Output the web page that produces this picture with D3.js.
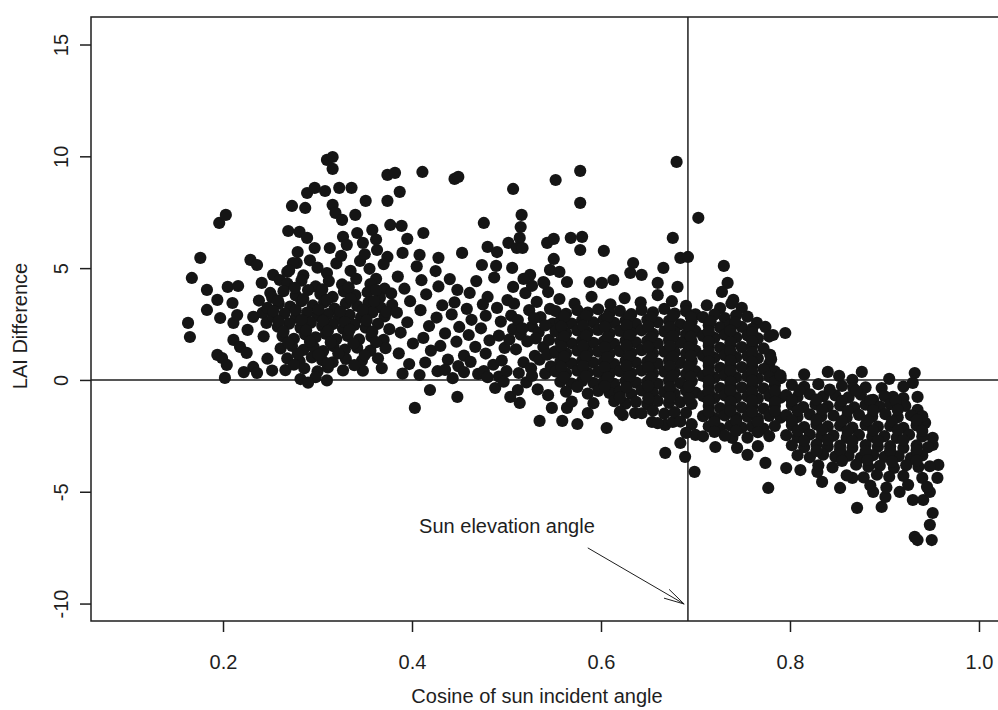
<!DOCTYPE html>
<html>
<head>
<meta charset="utf-8">
<script src="https://cdn.jsdelivr.net/npm/d3@7"></script>
<style>
  html, body { margin: 0; padding: 0; background: #fff; overflow: hidden; }
  svg { display: block; }
  svg text { font-family: "Liberation Sans", Arial, sans-serif; fill: #1e1e1e; }
</style>
</head>
<body>
<svg id="chart" width="998" height="710"></svg>
<script>
// tick values
const xTicks = [0.2, 0.4, 0.6, 0.8, 1.0];
const yTicks = [-10, -5, 0, 5, 10, 15];

// reference lines + annotation (data units)
const sunCosine = 0.692;
const noteText = "Sun elevation angle";
const notePos = [0.5005, -6.84];
const arrowFrom = [0.586, -7.51];
const arrowTo = [0.688, -10.02];

// points, split by cosine range
const pointsA = [
  [0.310,9.84],[0.316,9.97],[0.316,9.44],[0.374,9.17],[0.289,8.36],[0.297,8.59],[0.308,8.45],[0.323,8.59],[0.336,8.59],
  [0.273,7.78],[0.287,7.69],[0.316,7.83],[0.319,7.47],[0.326,7.16],[0.340,7.38],[0.351,8.01],[0.374,8.01],
  [0.196,7.02],[0.203,7.38],[0.269,6.66],[0.281,6.62],[0.289,6.35],[0.327,6.40],[0.342,6.57],[0.358,6.71],[0.377,6.93],
  [0.176,5.46],[0.229,5.37],[0.236,5.14],[0.279,5.72],[0.297,5.90],[0.313,5.90],[0.331,6.04],[0.348,6.13],[0.363,5.81],[0.374,5.50],[0.278,5.23],
  [0.167,4.56],[0.183,4.03],[0.194,3.58],[0.210,3.44],[0.205,4.16],[0.216,4.20],[0.183,3.13],[0.197,2.77],[0.163,2.55],[0.165,1.92],[0.202,0.09],
  [0.194,1.12],[0.199,0.98],[0.204,0.67],[0.211,1.79],[0.211,2.55],[0.218,1.48],[0.225,1.21],[0.232,0.58],[0.236,0.31],[0.226,2.24],[0.232,2.82],
  [0.242,3.00],[0.241,4.34],[0.250,3.89],[0.253,4.70],[0.260,4.47],[0.268,4.83],[0.274,5.23],
  [0.243,1.95],[0.247,0.95],[0.252,0.42],[0.238,3.55],[0.246,2.55],[0.222,0.35],[0.215,2.90],
  [0.270,4.90],[0.285,4.68],[0.300,5.02],[0.310,4.78],[0.320,5.21],[0.335,4.88],[0.345,5.32],[0.355,4.97],[0.362,4.52],[0.370,5.18],[0.350,5.62],[0.325,5.55],[0.362,6.28],[0.292,5.35],
  [0.268,4.31],[0.283,4.44],[0.298,4.18],[0.312,4.42],[0.326,4.27],[0.341,4.52],[0.356,4.29],[0.371,4.08],
  [0.252,3.68],[0.264,3.97],[0.277,3.78],[0.290,4.02],[0.303,3.84],[0.316,3.71],[0.328,3.96],[0.340,3.79],[0.353,3.92],[0.366,3.68],[0.378,3.87],
  [0.247,3.22],[0.259,3.41],[0.271,3.28],[0.283,3.52],[0.295,3.33],[0.307,3.47],[0.318,3.19],[0.330,3.42],[0.342,3.31],[0.354,3.46],[0.367,3.24],[0.379,3.36],
  [0.253,2.83],[0.265,2.97],[0.277,2.78],[0.289,3.01],[0.300,2.86],[0.311,2.94],[0.322,2.74],[0.334,2.91],[0.346,2.79],[0.358,3.02],[0.371,2.84],
  [0.258,2.38],[0.270,2.52],[0.282,2.33],[0.293,2.56],[0.305,2.41],[0.316,2.49],[0.327,2.29],[0.339,2.46],[0.351,2.34],[0.364,2.51],[0.376,2.27],
  [0.263,1.96],[0.275,1.84],[0.287,2.03],[0.298,1.91],[0.309,2.06],[0.320,1.83],[0.332,1.97],[0.344,1.81],[0.357,1.94],[0.370,1.79],
  [0.261,1.41],[0.273,1.52],[0.285,1.34],[0.296,1.47],[0.306,1.29],[0.317,1.51],[0.329,1.36],[0.342,1.44],[0.356,1.31],[0.372,1.42],
  [0.268,0.96],[0.281,0.84],[0.294,1.01],[0.305,0.88],[0.316,0.79],[0.330,0.94],[0.347,0.86],[0.364,0.97],
  [0.266,0.44],[0.286,0.52],[0.300,0.38],[0.311,0.56],[0.327,0.43],[0.348,0.41],[0.368,0.53],
  [0.282,0.04],[0.298,0.12],[0.310,-0.02],[0.290,-0.12],
  [0.276,4.12],[0.305,4.05],[0.333,4.14],[0.362,4.02],
  [0.258,3.55],[0.285,3.62],[0.310,3.58],[0.335,3.63],[0.360,3.52],
  [0.253,3.08],[0.277,3.12],[0.301,3.15],[0.324,3.06],[0.348,3.12],[0.373,3.05],
  [0.259,2.62],[0.283,2.68],[0.306,2.64],[0.329,2.59],[0.352,2.66],
  [0.264,2.17],[0.288,2.22],[0.311,2.19],[0.334,2.24],[0.358,2.15],
  [0.269,1.66],[0.292,1.71],[0.314,1.68],[0.338,1.63],[0.362,1.69],
  [0.279,1.17],[0.301,1.13],[0.322,1.19],[0.350,1.11],
  [0.275,0.68],[0.311,0.73],[0.339,0.66]
];

const pointsB = [
  [0.382,9.26],[0.411,9.30],[0.387,8.41],[0.389,6.89],[0.412,6.57],[0.395,6.31],[0.390,5.68],[0.408,5.59],[0.445,8.99],[0.449,9.08],
  [0.507,8.54],[0.476,7.02],[0.516,7.38],[0.515,6.84],[0.514,6.35],[0.453,5.68],[0.480,5.95],[0.490,5.72],[0.502,6.13],[0.511,5.90],
  [0.517,5.90],[0.543,6.13],[0.550,6.31],[0.428,5.46],[0.474,5.14],[0.489,5.10],[0.506,5.01],[0.525,4.70],[0.539,4.38],[0.550,5.41],
  [0.546,4.92],[0.448,4.03],[0.461,3.89],[0.480,3.71],[0.507,4.16],
  [0.403,-1.25],[0.419,-0.45],[0.448,-0.76],[0.488,-0.36],[0.504,-0.76],[0.514,-1.03],[0.512,-0.45],[0.535,-1.83],[0.548,-1.25],
  [0.385,4.62],[0.392,4.08],[0.398,3.52],[0.384,3.01],[0.395,2.58],[0.388,2.12],[0.401,1.63],[0.386,1.19],[0.397,0.71],[0.390,0.28],
  [0.405,5.08],[0.410,4.46],[0.415,3.83],[0.409,3.12],[0.418,2.41],[0.412,1.88],[0.420,1.31],[0.414,0.78],[0.408,0.22],
  [0.425,4.87],[0.428,4.18],[0.432,3.34],[0.426,2.79],[0.435,2.08],[0.430,1.52],[0.438,0.91],[0.427,0.39],
  [0.440,4.51],[0.445,3.47],[0.442,2.93],[0.450,2.37],[0.447,1.71],[0.455,1.09],[0.449,0.62],[0.443,0.08],
  [0.458,3.18],[0.463,2.69],[0.460,2.01],[0.467,1.48],[0.462,0.81],[0.470,0.27],[0.435,0.45],[0.455,0.35],[0.476,0.40],[0.492,0.15],
  [0.468,4.42],[0.475,3.38],[0.478,2.87],[0.473,2.31],[0.482,1.77],[0.478,1.18],[0.486,0.68],[0.480,0.12],
  [0.487,4.58],[0.490,3.22],[0.494,2.61],[0.492,1.98],[0.498,1.43],[0.495,0.87],[0.500,0.39],[0.497,-0.08],
  [0.501,3.57],[0.505,2.88],[0.507,2.27],[0.503,1.81],
  [0.508,3.41],[0.512,2.68],[0.515,2.02],[0.510,1.37],[0.518,0.79],[0.513,0.31],[0.520,3.88],[0.524,3.12],[0.527,2.39],[0.522,1.72],
  [0.530,1.08],[0.526,0.52],[0.521,-0.11],[0.532,3.49],[0.536,2.81],[0.534,2.13],[0.539,1.47],[0.535,0.91],[0.541,0.28],[0.533,-0.42],
  [0.544,3.93],[0.546,3.18],[0.549,2.52],[0.545,1.79],[0.550,1.22],[0.547,0.61],[0.544,-0.68],[0.527,4.21],[0.540,4.33],[0.518,4.52],
  [0.529,2.76],[0.541,2.44],[0.531,1.86],[0.543,1.13],[0.527,0.18],[0.517,2.31]
];

const pointsC = [
  [0.552,8.94],[0.578,9.35],[0.578,7.92],[0.680,9.75],[0.676,6.35],[0.568,6.35],[0.580,6.40],[0.578,5.81],[0.603,5.77],[0.684,5.46],
  [0.692,5.50],[0.556,4.83],[0.564,4.38],[0.588,4.38],[0.601,4.34],[0.613,4.47],[0.634,5.23],[0.631,4.79],[0.643,4.70],[0.666,5.01],
  [0.660,4.34],[0.681,4.16],[0.559,-1.83],[0.564,-1.25],[0.575,-1.97],[0.586,-1.48],[0.606,-2.15],[0.623,-1.57],[0.636,-1.48],
  [0.654,-1.88],[0.668,-2.01],[0.668,-3.26],[0.684,-2.82],[0.689,-3.44],[0.699,-4.11],[0.676,-1.88],
  [0.556,3.62],[0.572,3.41],[0.590,3.72],[0.610,3.38],[0.625,3.66],[0.642,3.47],[0.660,3.79],[0.675,3.52],[0.690,3.31],
  [0.552,3.08],[0.563,2.96],[0.575,3.12],[0.586,3.01],[0.597,3.16],[0.609,2.98],[0.620,3.09],[0.632,2.94],[0.643,3.13],[0.655,3.02],[0.667,3.18],[0.678,2.97],[0.690,3.07],[0.700,2.93],
  [0.557,2.63],[0.569,2.52],[0.580,2.68],[0.592,2.57],[0.603,2.71],[0.614,2.55],[0.626,2.66],[0.637,2.51],[0.649,2.69],[0.660,2.58],[0.672,2.64],[0.684,2.49],[0.696,2.62],
  [0.552,2.18],[0.563,2.09],[0.575,2.21],[0.586,2.12],[0.597,2.24],[0.609,2.07],[0.620,2.19],[0.632,2.11],[0.643,2.22],[0.655,2.06],[0.667,2.17],[0.678,2.13],[0.690,2.04],[0.700,2.19],
  [0.557,1.73],[0.569,1.64],[0.580,1.77],[0.592,1.66],[0.603,1.72],[0.614,1.61],[0.626,1.76],[0.637,1.68],[0.649,1.74],[0.660,1.63],[0.672,1.78],[0.684,1.67],[0.696,1.71],
  [0.552,1.28],[0.563,1.19],[0.575,1.31],[0.586,1.22],[0.597,1.27],[0.609,1.16],[0.620,1.29],[0.632,1.21],[0.643,1.33],[0.655,1.18],[0.667,1.26],[0.678,1.23],[0.690,1.17],[0.700,1.31],
  [0.557,0.82],[0.569,0.74],[0.580,0.86],[0.592,0.77],[0.603,0.83],[0.614,0.71],[0.626,0.85],[0.637,0.78],[0.649,0.81],[0.660,0.73],[0.672,0.87],[0.684,0.76],[0.696,0.84],
  [0.552,0.38],[0.563,0.29],[0.575,0.41],[0.586,0.32],[0.597,0.36],[0.609,0.27],[0.620,0.39],[0.632,0.31],[0.643,0.42],[0.655,0.28],[0.667,0.37],[0.678,0.33],[0.690,0.26],[0.700,0.40],
  [0.557,-0.08],[0.569,-0.16],[0.580,-0.04],[0.592,-0.13],[0.603,-0.07],[0.614,-0.18],[0.626,-0.05],[0.637,-0.12],[0.649,-0.09],[0.660,-0.17],[0.672,-0.03],[0.684,-0.14],[0.696,-0.06],
  [0.563,-0.52],[0.586,-0.61],[0.597,-0.49],[0.609,-0.58],[0.620,-0.51],[0.632,-0.63],[0.643,-0.47],[0.655,-0.59],[0.667,-0.54],[0.678,-0.62],[0.690,-0.48],[0.700,-0.57],
  [0.569,-0.97],[0.592,-1.04],[0.614,-0.95],[0.626,-1.06],[0.637,-0.98],[0.649,-1.08],[0.660,-0.94],[0.672,-1.03],[0.684,-0.99],[0.696,-1.07],
  [0.620,-1.42],[0.643,-1.49],[0.655,-1.38],[0.667,-1.51],[0.678,-1.44],[0.690,-1.47],
  [0.660,-1.93],[0.684,-1.86],[0.696,-1.98],[0.690,-2.37],[0.700,-2.46],
  [0.561,2.83],[0.584,2.87],[0.607,2.81],[0.630,2.86],[0.653,2.79],[0.676,2.84],[0.695,2.81],
  [0.558,2.38],[0.581,2.42],[0.604,2.37],[0.627,2.44],[0.650,2.39],[0.673,2.36],[0.693,2.41],
  [0.561,1.94],[0.584,1.97],[0.607,1.92],[0.630,1.99],[0.653,1.91],[0.676,1.96],[0.695,1.93],
  [0.558,1.49],[0.581,1.52],[0.604,1.46],[0.627,1.53],[0.650,1.48],[0.673,1.51],[0.693,1.45],
  [0.561,1.04],[0.584,1.07],[0.607,1.01],[0.630,1.06],[0.653,0.99],[0.676,1.03],[0.695,1.08],
  [0.558,0.58],[0.581,0.62],[0.604,0.57],[0.627,0.63],[0.650,0.56],[0.673,0.61],[0.693,0.59],
  [0.561,0.13],[0.584,0.17],[0.607,0.11],[0.630,0.16],[0.653,0.12],[0.676,0.18],[0.695,0.14],
  [0.575,-0.31],[0.604,-0.28],[0.627,-0.33],[0.650,-0.27],[0.673,-0.32],[0.693,-0.29],
  [0.620,-0.78],[0.650,-0.82],[0.673,-0.77],[0.693,-0.81]
];

const pointsD = [
  [0.730,5.10],[0.734,4.34],[0.728,3.94],[0.740,3.58],[0.749,3.22],[0.765,2.55],[0.774,2.37],[0.782,2.01],[0.795,2.10],[0.703,7.25],
  [0.779,1.12],[0.721,-3.00],[0.739,-2.59],[0.755,-3.35],[0.774,-3.71],[0.777,-4.83],[0.796,-3.94],
  [0.712,3.34],[0.726,3.21],[0.738,3.42],
  [0.708,2.81],[0.720,2.92],[0.731,2.77],[0.743,2.89],[0.755,2.83],
  [0.714,2.44],[0.726,2.35],[0.737,2.48],[0.749,2.37],[0.760,2.29],
  [0.708,1.97],[0.720,1.88],[0.731,2.02],[0.743,1.91],[0.755,1.99],[0.766,1.86],[0.778,1.94],
  [0.714,1.53],[0.726,1.44],[0.737,1.56],[0.749,1.47],[0.760,1.52],[0.772,1.41],
  [0.708,1.08],[0.720,0.99],[0.731,1.11],[0.743,1.02],[0.755,1.07],[0.766,0.97],[0.778,0.72],
  [0.714,0.63],[0.726,0.54],[0.737,0.66],[0.749,0.57],[0.760,0.61],[0.772,0.49],[0.784,0.38],
  [0.708,0.18],[0.720,0.09],[0.731,0.21],[0.743,0.12],[0.755,0.16],[0.766,0.06],[0.778,0.14],[0.790,0.08],
  [0.714,-0.27],[0.726,-0.36],[0.737,-0.24],[0.749,-0.33],[0.760,-0.29],[0.772,-0.38],[0.784,-0.25],
  [0.708,-0.72],[0.720,-0.81],[0.731,-0.69],[0.743,-0.78],[0.755,-0.74],[0.766,-0.83],[0.778,-0.71],[0.790,-0.79],
  [0.714,-1.17],[0.726,-1.26],[0.737,-1.14],[0.749,-1.23],[0.760,-1.19],[0.772,-1.28],[0.784,-1.16],
  [0.708,-1.62],[0.720,-1.71],[0.731,-1.59],[0.743,-1.68],[0.755,-1.64],[0.766,-1.73],[0.778,-1.61],[0.790,-1.69],
  [0.714,-2.07],[0.726,-2.16],[0.737,-2.04],[0.749,-2.13],[0.760,-2.09],[0.772,-2.18],[0.784,-2.06],
  [0.708,-2.52],[0.731,-2.49],[0.755,-2.58],[0.778,-2.51],[0.744,-3.04],[0.766,-2.96],
  [0.716,2.62],[0.742,2.58],
  [0.714,2.17],[0.737,2.21],[0.760,2.13],
  [0.714,1.72],[0.737,1.68],[0.760,1.74],
  [0.714,1.26],[0.737,1.29],[0.760,1.23],
  [0.714,0.82],[0.737,0.86],[0.760,0.81],[0.780,0.93],
  [0.714,0.37],[0.737,0.41],[0.760,0.36],
  [0.714,-0.04],[0.737,-0.08],[0.760,-0.03],[0.784,-0.07],
  [0.714,-0.52],[0.737,-0.48],[0.760,-0.53],[0.784,-0.49],
  [0.714,-0.93],[0.737,-0.97],[0.760,-0.92],[0.784,-0.98],
  [0.714,-1.42],[0.737,-1.38],[0.760,-1.43],[0.784,-1.39],
  [0.720,-1.87],[0.743,-1.83],[0.766,-1.88],
  [0.720,-2.32],[0.743,-2.28],[0.766,-2.34]
];

const pointsE = [
  [0.840,0.36],[0.876,0.36],[0.932,0.31],[0.930,-0.13],[0.935,-0.76],[0.935,-1.34],[0.866,0.00],[0.867,-0.36],[0.871,-5.72],[0.897,-5.68],
  [0.951,-5.95],[0.948,-6.48],[0.932,-7.02],[0.935,-7.16],[0.950,-7.16],[0.853,-4.83],[0.888,-5.01],[0.901,-5.23],[0.811,-4.03],[0.829,-4.11],
  [0.834,-4.56],[0.866,-4.38],[0.916,-5.01],[0.930,-5.37],[0.941,-5.37],[0.948,-5.01],[0.956,-4.38],[0.957,-3.80],[0.951,-2.91],[0.951,-2.59],
  [0.943,-1.92],[0.909,-0.76],[0.897,-0.36],[0.888,-0.89],
  [0.790,0.20],[0.815,0.25],[0.852,0.18],[0.905,0.05],[0.920,-0.30],
  [0.802,-0.22],[0.815,-0.31],[0.830,-0.19],[0.855,-0.27],[0.880,-0.33],
  [0.796,-0.68],[0.808,-0.76],[0.821,-0.64],[0.835,-0.73],[0.848,-0.69],[0.862,-0.78],[0.875,-0.66],[0.900,-0.72],[0.920,-0.81],
  [0.802,-1.12],[0.814,-1.21],[0.827,-1.09],[0.840,-1.18],[0.853,-1.14],[0.868,-1.23],[0.880,-1.11],[0.895,-1.19],[0.906,-1.08],[0.922,-1.16],
  [0.796,-1.57],[0.808,-1.66],[0.821,-1.54],[0.833,-1.63],[0.846,-1.59],[0.860,-1.68],[0.873,-1.56],[0.887,-1.64],[0.901,-1.53],[0.914,-1.67],[0.928,-1.58],[0.940,-1.62],
  [0.802,-2.02],[0.815,-2.11],[0.828,-1.99],[0.840,-2.08],[0.853,-2.04],[0.866,-2.13],[0.880,-2.01],[0.893,-2.09],[0.906,-2.06],[0.920,-2.14],[0.934,-2.03],
  [0.796,-2.47],[0.808,-2.56],[0.821,-2.44],[0.833,-2.53],[0.846,-2.49],[0.860,-2.58],[0.873,-2.46],[0.887,-2.54],[0.900,-2.51],[0.913,-2.59],[0.926,-2.45],[0.940,-2.53],
  [0.802,-2.92],[0.815,-3.01],[0.828,-2.89],[0.840,-2.98],[0.853,-2.94],[0.866,-3.03],[0.880,-2.91],[0.893,-2.99],[0.906,-2.96],[0.920,-3.04],[0.934,-2.93],[0.946,-3.01],
  [0.808,-3.37],[0.821,-3.46],[0.835,-3.34],[0.848,-3.43],[0.862,-3.39],[0.875,-3.48],[0.888,-3.36],[0.900,-3.44],[0.915,-3.41],[0.928,-3.49],[0.940,-3.38],
  [0.830,-3.82],[0.845,-3.91],[0.870,-3.79],[0.883,-3.88],[0.895,-3.84],[0.910,-3.93],[0.923,-3.81],[0.936,-3.89],[0.948,-3.86],
  [0.860,-4.27],[0.878,-4.36],[0.892,-4.24],[0.905,-4.33],[0.920,-4.29],[0.940,-4.38],
  [0.885,-4.72],[0.902,-4.81],[0.925,-4.69],[0.945,-4.78],
  [0.810,-0.47],[0.842,-0.43],[0.870,-0.49],
  [0.802,-0.92],[0.828,-0.88],[0.855,-0.94],[0.885,-0.91],[0.912,-0.95],
  [0.808,-1.37],[0.834,-1.33],[0.861,-1.39],[0.888,-1.36],[0.914,-1.34],
  [0.802,-1.82],[0.828,-1.78],[0.855,-1.84],[0.882,-1.81],[0.908,-1.85],[0.934,-1.79],
  [0.808,-2.27],[0.834,-2.23],[0.861,-2.29],[0.888,-2.26],[0.914,-2.24],[0.940,-2.28],
  [0.815,-2.72],[0.840,-2.68],[0.866,-2.74],[0.893,-2.71],[0.920,-2.69],
  [0.828,-3.17],[0.853,-3.13],[0.880,-3.19],[0.906,-3.16],[0.934,-3.14],
  [0.855,-3.62],[0.882,-3.58],[0.908,-3.64],[0.934,-3.61]
];

const points = [].concat(pointsA, pointsB, pointsC, pointsD, pointsE);

const svg = d3.select("#chart");
const ink = "#1e1e1e";

// plot region (right edge runs past the page, as in the scan)
const box = {left: 91, top: 17, right: 1013, bottom: 621};

const x = d3.scaleLinear().domain([0.0603, 1.036]).range([box.left, box.right]);
const y = d3.scaleLinear().domain([-10.78, 16.23]).range([box.bottom, box.top]);

// reference lines
svg.append("line")
    .attr("x1", box.left).attr("x2", 998)
    .attr("y1", y(0)).attr("y2", y(0))
    .attr("stroke", ink).attr("stroke-width", 1.5);

svg.append("line")
    .attr("x1", x(sunCosine)).attr("x2", x(sunCosine))
    .attr("y1", box.top).attr("y2", box.bottom)
    .attr("stroke", ink).attr("stroke-width", 1.5);

// points
svg.append("g")
    .selectAll("circle")
    .data(points)
    .enter().append("circle")
    .attr("cx", d => x(d[0]))
    .attr("cy", d => y(d[1]))
    .attr("r", 6.1)
    .attr("fill", "#151515");

// frame: left, top and bottom sides only (right side is off the page)
svg.append("path")
    .attr("d", `M998,${box.top}H${box.left}V${box.bottom}H998`)
    .attr("fill", "none").attr("stroke", ink).attr("stroke-width", 1.5);

// axes
svg.append("g")
    .attr("transform", `translate(0,${box.bottom})`)
    .call(d3.axisBottom(x).tickValues(xTicks).tickSize(11).tickFormat(d3.format(".1f")))
    .call(g => g.select(".domain").remove())
    .call(g => g.selectAll("line").attr("stroke", ink).attr("stroke-width", 1.5))
    .call(g => g.selectAll("text")
        .attr("y", 48).attr("dy", null)
        .attr("font-size", 20).attr("font-family", null).attr("fill", ink));

svg.append("g")
    .attr("transform", `translate(${box.left},0)`)
    .call(d3.axisLeft(y).tickValues(yTicks).tickSize(11).tickFormat(d => String(d)))
    .call(g => g.select(".domain").remove())
    .call(g => g.selectAll("line").attr("stroke", ink).attr("stroke-width", 1.5))
    .call(g => g.selectAll("text")
        .attr("x", null).attr("dy", null)
        .attr("text-anchor", "middle")
        .attr("transform", "translate(-23,0) rotate(-90)")
        .attr("font-size", 20).attr("font-family", null).attr("fill", ink));

// axis titles
svg.append("text")
    .attr("x", 537).attr("y", 703)
    .attr("text-anchor", "middle")
    .attr("font-size", 20)
    .text("Cosine of sun incident angle");

svg.append("text")
    .attr("transform", "translate(27,326) rotate(-90)")
    .attr("text-anchor", "middle")
    .attr("font-size", 20)
    .text("LAI Difference");

// annotation with open arrow head
svg.append("text")
    .attr("x", x(notePos[0])).attr("y", y(notePos[1]))
    .attr("text-anchor", "middle")
    .attr("font-size", 20)
    .text(noteText);

const ax0 = x(arrowFrom[0]), ay0 = y(arrowFrom[1]);
const ax1 = x(arrowTo[0]), ay1 = y(arrowTo[1]);
const ang = Math.atan2(ay1 - ay0, ax1 - ax0);
const headLen = 21, headSpread = 14 * Math.PI / 180;

const arrow = svg.append("g").attr("stroke", ink).attr("stroke-width", 1).attr("fill", "none");
arrow.append("line").attr("x1", ax0).attr("y1", ay0).attr("x2", ax1).attr("y2", ay1);
[-headSpread, headSpread].forEach(s => {
    arrow.append("line")
        .attr("x1", ax1).attr("y1", ay1)
        .attr("x2", ax1 - headLen * Math.cos(ang + s))
        .attr("y2", ay1 - headLen * Math.sin(ang + s));
});
</script>
</body>
</html>
